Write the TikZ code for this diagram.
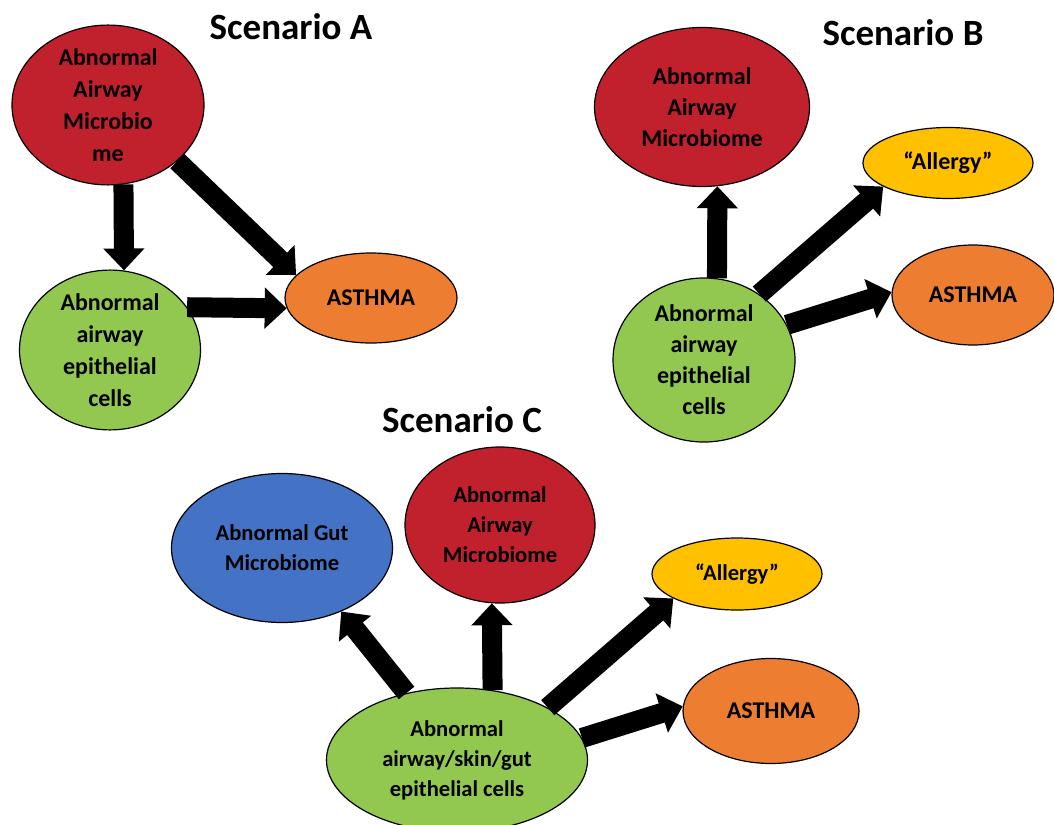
\documentclass[tikz,border=0pt]{standalone}
\usepackage{fontspec}
\setmainfont{Carlito}
\usetikzlibrary{arrows.meta,shapes.geometric}

\definecolor{microred}{HTML}{C1202D}
\definecolor{cellgreen}{HTML}{92C850}
\definecolor{asthmaorange}{HTML}{ED7D31}
\definecolor{allergyyellow}{HTML}{FFC000}
\definecolor{gutblue}{HTML}{4472C4}

\begin{document}
\begin{tikzpicture}[x=0.5pt,y=-0.5pt,
    bubble/.style={ellipse,draw=black,line width=0.6pt,inner sep=0pt,align=center,
      font=\fontsize{12}{15.5}\selectfont\bfseries},
    smallbubble/.style={bubble,font=\fontsize{11.3}{15}\selectfont\bfseries},
    heading/.style={font=\fontsize{18.5}{22}\selectfont\bfseries},
    fat/.style={line width=10pt,-{Triangle[width=20pt,length=11pt]}}]
            \useasboundingbox (0,0) rectangle (1054,824);

            % Scenario A
            \node[heading] (titleA) at (291,27) {Scenario A};
            \node[bubble,fill=microred,minimum width=96pt,minimum height=77.5pt,
              font=\fontsize{12}{16}\selectfont\bfseries] (microA) at (108,105) {Abnormal\\Airway\\Microbio\\me};
            \node[bubble,fill=cellgreen,minimum width=90.5pt,minimum height=78pt,
              font=\fontsize{12}{16}\selectfont\bfseries] (cellsA) at (110,350) {Abnormal\\airway\\epithelial\\cells};
            \node[bubble,fill=asthmaorange,minimum width=86pt,minimum height=45pt] (asthmaA) at (371,298) {ASTHMA};
            \draw[fat] (microA.-79) -- (cellsA.80);
            \draw[fat] (microA.-39) -- (asthmaA.163);
            \draw[fat] (cellsA.29) -- (asthmaA.187);

            % Scenario B
            \node[heading] (titleB) at (903,33) {Scenario B};
            \node[bubble,fill=microred,minimum width=107.5pt,minimum height=79.5pt] (microB) at (702,107) {Abnormal\\Airway\\Microbiome};
            \node[bubble,fill=allergyyellow,minimum width=85pt,minimum height=35.5pt] (allergyB) at (948,163) {``Allergy''};
            \node[bubble,fill=asthmaorange,minimum width=81pt,minimum height=50pt] (asthmaB) at (973,295) {ASTHMA};
            \node[bubble,fill=cellgreen,minimum width=91pt,minimum height=82pt] (cellsB) at (704,360) {Abnormal\\airway\\epithelial\\cells};
            \draw[fat] (cellsB.81) -- (microB.-79);
            \draw[fat] (cellsB.50) -- (allergyB.200);
            \draw[fat] (cellsB.23) -- (asthmaB.178);

            % Scenario C
            \node[heading] (titleC) at (462,420) {Scenario C};
            \node[smallbubble,fill=gutblue,minimum width=110.5pt,minimum height=74.5pt] (gutC) at (282,548) {Abnormal Gut\\Microbiome};
            \node[smallbubble,fill=microred,minimum width=95pt,minimum height=78pt] (microC) at (500,525) {Abnormal\\Airway\\Microbiome};
            \node[smallbubble,fill=allergyyellow,minimum width=85pt,minimum height=36pt] (allergyC) at (737,574) {``Allergy''};
            \node[bubble,fill=asthmaorange,minimum width=88pt,minimum height=52.5pt] (asthmaC) at (771,711) {ASTHMA};
            \node[smallbubble,fill=cellgreen,minimum width=130.5pt,minimum height=72pt] (cellsC) at (457,760) {Abnormal\\airway/skin/gut\\epithelial cells};
            \draw[fat] (cellsC.127) -- (gutC.-47);
            \draw[fat] (cellsC.63) -- (microC.-96);
            \draw[fat] (cellsC.30) -- (allergyC.201);
            \draw[fat] (cellsC.10) -- (asthmaC.177);
        \end{tikzpicture}
\end{document}
